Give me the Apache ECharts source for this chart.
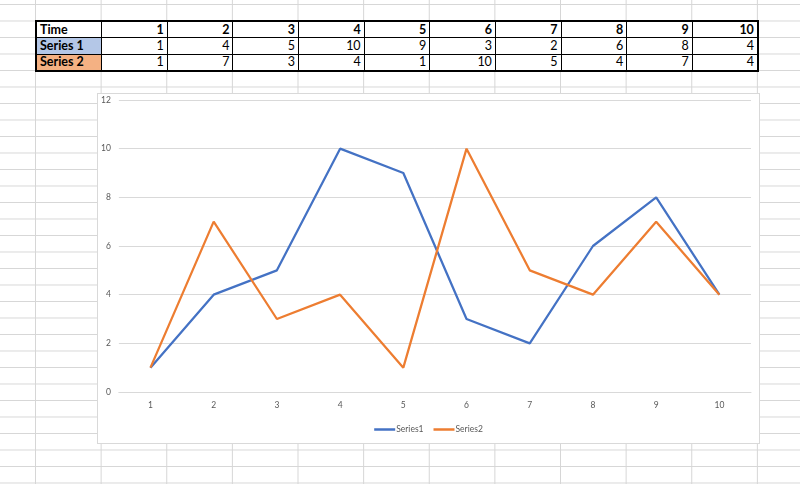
<!DOCTYPE html>
<html>
<head>
<meta charset="utf-8">
<script src="https://cdn.jsdelivr.net/npm/echarts@6/dist/echarts.min.js"></script>
<style>
  html, body { margin:0; padding:0; width:800px; height:484px; overflow:hidden; background:#fff; }
  #sheet {
    position:absolute; left:0; top:0; width:800px; height:484px;
    background-image:
      linear-gradient(to right, #d6d6d6 1px, transparent 1px),
      linear-gradient(to bottom, #d6d6d6 1px, transparent 1px);
    background-size: 65.64px 16.5px, 65.64px 16.5px;
    background-position: 35px 0, 0 4px;
  }
  #tbl {
    position:absolute; left:35px; top:20px;
    border-collapse:collapse; border:2px solid #000;
    font-family:"Lato","Open Sans",sans-serif; font-size:12.5px; color:#000;
    table-layout:fixed; background:#fff;
  }
  #tbl td { border:1.5px solid #000; height:16.5px; padding:0 3px; line-height:14px; box-sizing:border-box; text-align:right; width:65.64px; overflow:hidden; white-space:nowrap; }
  #tbl td.lab { text-align:left; font-weight:bold; }
  #tbl tr.hdr td { font-weight:bold; }
  #chart {
    position:absolute; left:97px; top:93px; width:661px; height:349px;
    border:1px solid #d9d9d9; background:#fff;
  }
</style>
</head>
<body>
<div id="sheet"></div>
<table id="tbl"></table>
<div id="chart"></div>
<script>
const timeLabels = ['1','2','3','4','5','6','7','8','9','10'];
const series1 = [1, 4, 5, 10, 9, 3, 2, 6, 8, 4];
const series2 = [1, 7, 3, 4, 1, 10, 5, 4, 7, 4];
const rowNames = ['Time', 'Series 1', 'Series 2'];
const legendNames = ['Series1', 'Series2'];
const yTicks = [0, 2, 4, 6, 8, 10, 12];

// spreadsheet table
const tbl = document.getElementById('tbl');
const rows = [timeLabels, series1, series2];
const fills = ['#ffffff', '#b4c7e7', '#f4b183'];
rows.forEach((vals, i) => {
  const tr = document.createElement('tr');
  if (i === 0) tr.className = 'hdr';
  const th = document.createElement('td');
  th.className = 'lab';
  th.textContent = rowNames[i];
  th.style.background = fills[i];
  tr.appendChild(th);
  vals.forEach(v => {
    const td = document.createElement('td');
    td.textContent = v;
    tr.appendChild(td);
  });
  tbl.appendChild(tr);
});

const chart = echarts.init(document.getElementById('chart'), null, { renderer: 'canvas' });
const labelStyle = { color:'#595959', fontSize:8.5, fontFamily:'Lato, "Open Sans", sans-serif' };
chart.setOption({
  animation:false,
  backgroundColor:'#fff',
  grid:{ left:19, right:8, top:6, bottom:51, containLabel:false },
  xAxis:{
    type:'category', data:timeLabels, boundaryGap:true,
    axisLine:{ show:true, lineStyle:{ color:'#d9d9d9', width:1 } },
    axisTick:{ show:false },
    axisLabel:{ ...labelStyle, margin:9 }
  },
  yAxis:{
    type:'value', min:yTicks[0], max:yTicks[yTicks.length-1], interval:2,
    axisLine:{ show:false }, axisTick:{ show:false },
    splitLine:{ lineStyle:{ color:'#d9d9d9', width:1 } },
    axisLabel:{ ...labelStyle, margin:8 }
  },
  legend:{
    data:legendNames, left:'center', top:326,
    icon:'rect', itemWidth:21, itemHeight:2.5, itemGap:10,
    textStyle:{ ...labelStyle, padding:[0,0,0,-4] }
  },
  series:[
    { name:legendNames[0], type:'line', data:series1, showSymbol:false, symbol:'none',
      lineStyle:{ color:'#4472c4', width:2.25 }, itemStyle:{ color:'#4472c4' } },
    { name:legendNames[1], type:'line', data:series2, showSymbol:false, symbol:'none',
      lineStyle:{ color:'#ed7d31', width:2.25 }, itemStyle:{ color:'#ed7d31' } }
  ]
});
</script>
</body>
</html>
